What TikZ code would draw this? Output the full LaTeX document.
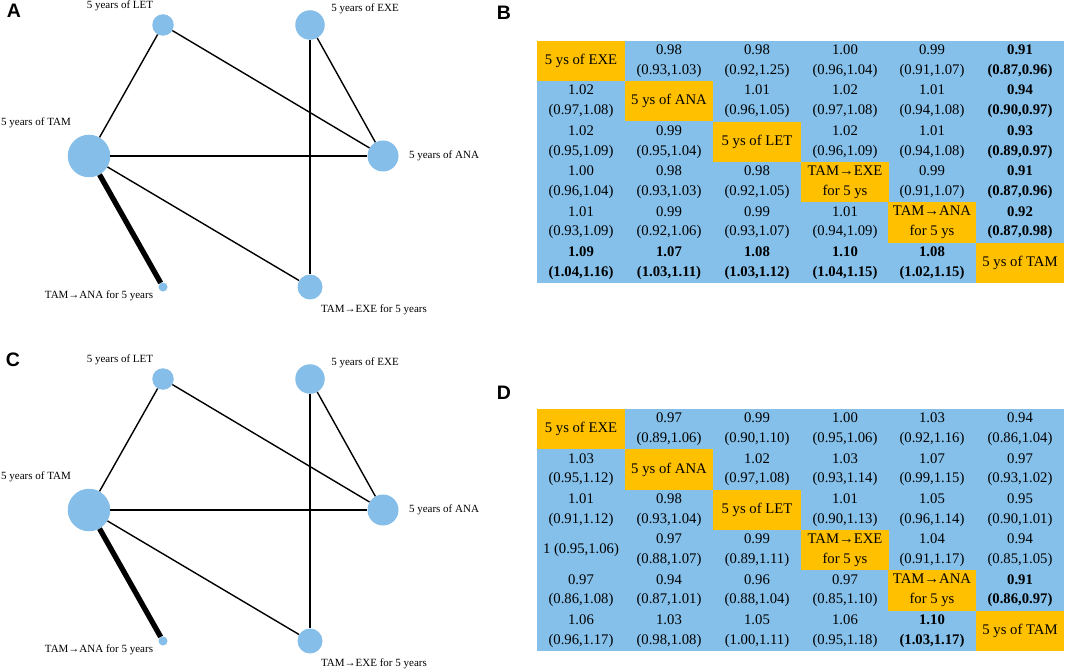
\documentclass[tikz,border=0pt]{standalone}
\usepackage{fontspec}
\setmainfont{Liberation Serif}
\newfontfamily\panelfont{Liberation Sans}
\definecolor{nodeblue}{RGB}{133,190,232}
\definecolor{cellblue}{RGB}{133,192,234}
\definecolor{cellorange}{RGB}{255,192,0}

\begin{document}
\begin{tikzpicture}[x=1pt, y=-1pt]
        \tikzstyle{trt}=[circle, fill=nodeblue, inner sep=0pt]
        \tikzstyle{lab}=[font=\fontsize{11}{13}\selectfont, inner sep=0pt]
        \tikzstyle{edge}=[line width=1.4pt]
        \tikzstyle{cell}=[align=center, inner sep=0pt, minimum width=87.8pt, minimum height=40.3pt, font=\fontsize{14.7}{19.6}\selectfont]
        \tikzstyle{cellb}=[cell, font=\fontsize{14.7}{19.6}\selectfont\bfseries]
        \tikzstyle{diag}=[cell, fill=cellorange]
        \tikzstyle{panel}=[font=\panelfont\bfseries\fontsize{19.5}{20}\selectfont, inner sep=0pt]

        \useasboundingbox (0,0) rectangle (1065,671);

        % panel letters
        \node[panel](pA) at (14,11){A};
        \node[panel](pB) at (504,13){B};
        \node[panel](pC) at (13,360){C};
        \node[panel](pD) at (504,393){D};

        % network A
        \node[trt, minimum size=21.5pt](LETa) at (163,25){};
        \node[trt, minimum size=29.5pt](EXEa) at (310,25){};
        \node[trt, minimum size=42.5pt](TAMa) at (89,156){};
        \node[trt, minimum size=31pt](ANAa) at (383,156){};
        \node[trt, minimum size=25pt](TAEa) at (310,287){};
        \node[trt, minimum size=9pt](TAAa) at (163,287){};

        \node[lab](lLETa) at (120,6){5 years of LET};
        \node[lab](lEXEa) at (365,9){5 years of EXE};
        \node[lab](lTAMa) at (36,123){5 years of TAM};
        \node[lab](lANAa) at (444,156){5 years of ANA};
        \node[lab](lTAAa) at (99,296){TAM→ANA for 5 years};
        \node[lab](lTAEa) at (374,310){TAM→EXE for 5 years};

        \draw[edge] (TAMa) -- (LETa);
        \draw[edge] (LETa) -- (ANAa);
        \draw[edge] (EXEa) -- (ANAa);
        \draw[edge] (EXEa) -- (TAEa);
        \draw[edge] (TAMa) -- (ANAa);
        \draw[edge] (TAMa) -- (TAEa);
        \draw[line width=5.3pt] (TAMa) -- (TAAa);

        % network C
        \node[trt, minimum size=21.5pt](LETc) at (163,379){};
        \node[trt, minimum size=29.5pt](EXEc) at (310,379){};
        \node[trt, minimum size=42.5pt](TAMc) at (89,510){};
        \node[trt, minimum size=31pt](ANAc) at (383,510){};
        \node[trt, minimum size=25pt](TAEc) at (310,641){};
        \node[trt, minimum size=9pt](TAAc) at (163,641){};

        \node[lab](lLETc) at (120,360){5 years of LET};
        \node[lab](lEXEc) at (365,363){5 years of EXE};
        \node[lab](lTAMc) at (36,477){5 years of TAM};
        \node[lab](lANAc) at (444,510){5 years of ANA};
        \node[lab](lTAAc) at (99,650){TAM→ANA for 5 years};
        \node[lab](lTAEc) at (374,664){TAM→EXE for 5 years};

        \draw[edge] (TAMc) -- (LETc);
        \draw[edge] (LETc) -- (ANAc);
        \draw[edge] (EXEc) -- (ANAc);
        \draw[edge] (EXEc) -- (TAEc);
        \draw[edge] (TAMc) -- (ANAc);
        \draw[edge] (TAMc) -- (TAEc);
        \draw[line width=5.3pt] (TAMc) -- (TAAc);

        % league table B
        \fill[cellblue] (537,41) rectangle (1064,283);
        \node[diag](b11) at (581,61){5 ys of EXE};
        \node[cell](b12) at (669,61){0.98\\(0.93,1.03)};
        \node[cell](b13) at (757,61){0.98\\(0.92,1.25)};
        \node[cell](b14) at (845,61){1.00\\(0.96,1.04)};
        \node[cell](b15) at (932,61){0.99\\(0.91,1.07)};
        \node[cellb](b16) at (1020,61){0.91\\(0.87,0.96)};

        \node[cell](b21) at (581,101){1.02\\(0.97,1.08)};
        \node[diag](b22) at (669,101){5 ys of ANA};
        \node[cell](b23) at (757,101){1.01\\(0.96,1.05)};
        \node[cell](b24) at (845,101){1.02\\(0.97,1.08)};
        \node[cell](b25) at (932,101){1.01\\(0.94,1.08)};
        \node[cellb](b26) at (1020,101){0.94\\(0.90,0.97)};

        \node[cell](b31) at (581,142){1.02\\(0.95,1.09)};
        \node[cell](b32) at (669,142){0.99\\(0.95,1.04)};
        \node[diag](b33) at (757,142){5 ys of LET};
        \node[cell](b34) at (845,142){1.02\\(0.96,1.09)};
        \node[cell](b35) at (932,142){1.01\\(0.94,1.08)};
        \node[cellb](b36) at (1020,142){0.93\\(0.89,0.97)};

        \node[cell](b41) at (581,182){1.00\\(0.96,1.04)};
        \node[cell](b42) at (669,182){0.98\\(0.93,1.03)};
        \node[cell](b43) at (757,182){0.98\\(0.92,1.05)};
        \node[diag](b44) at (845,182){TAM→EXE\\for 5 ys};
        \node[cell](b45) at (932,182){0.99\\(0.91,1.07)};
        \node[cellb](b46) at (1020,182){0.91\\(0.87,0.96)};

        \node[cell](b51) at (581,222.5){1.01\\(0.93,1.09)};
        \node[cell](b52) at (669,222.5){0.99\\(0.92,1.06)};
        \node[cell](b53) at (757,222.5){0.99\\(0.93,1.07)};
        \node[cell](b54) at (845,222.5){1.01\\(0.94,1.09)};
        \node[diag](b55) at (932,222.5){TAM→ANA\\for 5 ys};
        \node[cellb](b56) at (1020,222.5){0.92\\(0.87,0.98)};

        \node[cellb](b61) at (581,263){1.09\\(1.04,1.16)};
        \node[cellb](b62) at (669,263){1.07\\(1.03,1.11)};
        \node[cellb](b63) at (757,263){1.08\\(1.03,1.12)};
        \node[cellb](b64) at (845,263){1.10\\(1.04,1.15)};
        \node[cellb](b65) at (932,263){1.08\\(1.02,1.15)};
        \node[diag](b66) at (1020,263){5 ys of TAM};

        % league table D
        \fill[cellblue] (537,409) rectangle (1064,651);
        \node[diag](d11) at (581,429){5 ys of EXE};
        \node[cell](d12) at (669,429){0.97\\(0.89,1.06)};
        \node[cell](d13) at (757,429){0.99\\(0.90,1.10)};
        \node[cell](d14) at (845,429){1.00\\(0.95,1.06)};
        \node[cell](d15) at (932,429){1.03\\(0.92,1.16)};
        \node[cell](d16) at (1020,429){0.94\\(0.86,1.04)};

        \node[cell](d21) at (581,469.5){1.03\\(0.95,1.12)};
        \node[diag](d22) at (669,469.5){5 ys of ANA};
        \node[cell](d23) at (757,469.5){1.02\\(0.97,1.08)};
        \node[cell](d24) at (845,469.5){1.03\\(0.93,1.14)};
        \node[cell](d25) at (932,469.5){1.07\\(0.99,1.15)};
        \node[cell](d26) at (1020,469.5){0.97\\(0.93,1.02)};

        \node[cell](d31) at (581,510){1.01\\(0.91,1.12)};
        \node[cell](d32) at (669,510){0.98\\(0.93,1.04)};
        \node[diag](d33) at (757,510){5 ys of LET};
        \node[cell](d34) at (845,510){1.01\\(0.90,1.13)};
        \node[cell](d35) at (932,510){1.05\\(0.96,1.14)};
        \node[cell](d36) at (1020,510){0.95\\(0.90,1.01)};

        \node[cell](d41) at (581,550){1 (0.95,1.06)};
        \node[cell](d42) at (669,550){0.97\\(0.88,1.07)};
        \node[cell](d43) at (757,550){0.99\\(0.89,1.11)};
        \node[diag](d44) at (845,550){TAM→EXE\\for 5 ys};
        \node[cell](d45) at (932,550){1.04\\(0.91,1.17)};
        \node[cell](d46) at (1020,550){0.94\\(0.85,1.05)};

        \node[cell](d51) at (581,590.5){0.97\\(0.86,1.08)};
        \node[cell](d52) at (669,590.5){0.94\\(0.87,1.01)};
        \node[cell](d53) at (757,590.5){0.96\\(0.88,1.04)};
        \node[cell](d54) at (845,590.5){0.97\\(0.85,1.10)};
        \node[diag](d55) at (932,590.5){TAM→ANA\\for 5 ys};
        \node[cellb](d56) at (1020,590.5){0.91\\(0.86,0.97)};

        \node[cell](d61) at (581,631){1.06\\(0.96,1.17)};
        \node[cell](d62) at (669,631){1.03\\(0.98,1.08)};
        \node[cell](d63) at (757,631){1.05\\(1.00,1.11)};
        \node[cell](d64) at (845,631){1.06\\(0.95,1.18)};
        \node[cellb](d65) at (932,631){1.10\\(1.03,1.17)};
        \node[diag](d66) at (1020,631){5 ys of TAM};

\end{tikzpicture}
\end{document}
